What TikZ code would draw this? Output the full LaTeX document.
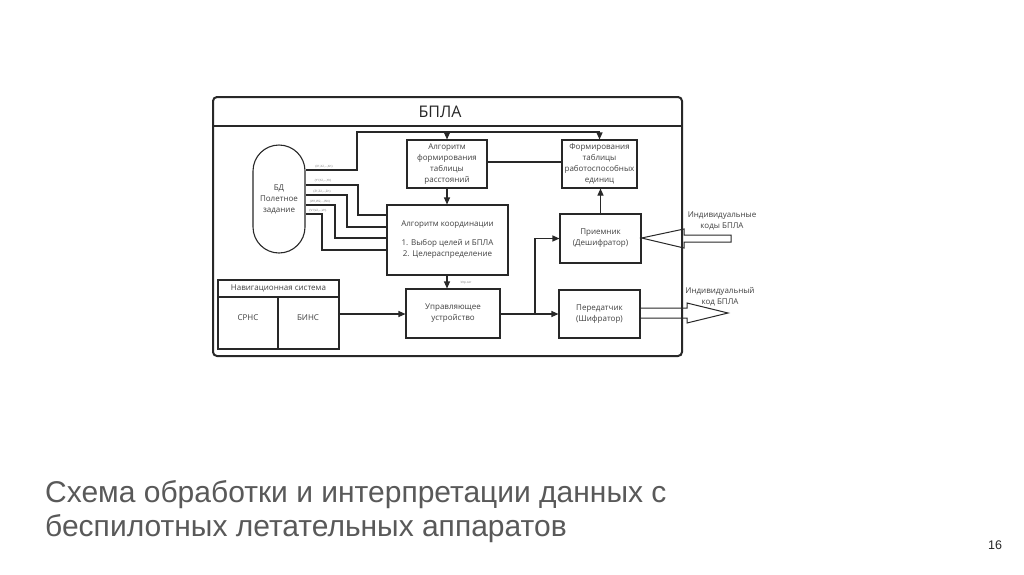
\documentclass[tikz,border=0pt]{standalone}
\usepackage{fontspec}
\setmainfont{Open Sans}
\newfontfamily\capfont{Liberation Sans}
\usetikzlibrary{arrows.meta}
\definecolor{capgray}{RGB}{89,89,89}
\definecolor{linec}{RGB}{40,40,40}
\begin{document}
\begin{tikzpicture}[x=1pt,y=-1pt,
  box/.style={draw=linec, line width=1.1pt, inner sep=0pt, align=center,
    font=\fontsize{8}{11}\selectfont, text=black!75},
  lbl/.style={inner sep=0pt, align=center, font=\fontsize{8}{11}\selectfont, text=black!75},
  tiny/.style={inner sep=0pt, font=\fontsize{3}{3}\selectfont, text=black!55},
  ln/.style={draw=linec, line width=1.1pt},
  arr/.style={-{Triangle[length=7pt,width=6pt]}}]
\useasboundingbox (0,0) rectangle (1024,574);
\fill[white] (0,0) rectangle (1024,574);

% outer frame
\node[draw=linec, line width=2pt, rounded corners=4pt, inner sep=0pt,
  minimum width=469pt, minimum height=259pt] (outer) at (447.5,226.5) {};
\draw[ln] (outer.west |- 0,126) -- (outer.east |- 0,126);
\node[lbl, font=\fontsize{16}{18}\selectfont, text=black!85] (title) at (440,112) {БПЛА};

% boxes
\node[box, rounded corners=26pt, minimum width=52pt, minimum height=108pt] (bd) at (279,199) {БД\\Полетное\\задание};
\node[box, minimum width=80pt, minimum height=48pt] (alg1) at (447,164) {Алгоритм\\формирования\\таблицы\\расстояний};
\node[box, minimum width=75pt, minimum height=48pt] (form) at (599.5,164) {Формирования\\таблицы\\работоспособных\\единиц};
\node[box, minimum width=121pt, minimum height=70pt] (coord) at (447.5,240) {Алгоритм координации\\[8pt]1. Выбор целей и БПЛА\\2. Целераспределение};
\node[box, minimum width=94pt, minimum height=49pt] (upr) at (453,313.5) {Управляющее\\устройство};
\node[box, minimum width=81pt, minimum height=49pt] (prm) at (600.5,238.5) {Приемник\\(Дешифратор)};
\node[box, minimum width=81pt, minimum height=48pt] (per) at (599.5,314) {Передатчик\\(Шифратор)};

% navigation system
\node[box, minimum width=121pt, minimum height=69pt] (nav) at (278.5,314.5) {};
\draw[ln] (nav.west |- 0,297) -- (nav.east |- 0,297);
\draw[ln] (278,297) -- (nav.south -| 278,0);
\node[lbl] (navh) at (278.5,288.5) {Навигационная система};
\node[lbl] (srns) at (248,318) {СРНС};
\node[lbl] (bins) at (308,318) {БИНС};

% top distribution line
\draw[ln,arr] (bd.east |- 0,170) -| (357,132) -| (form.north);
\draw[ln,arr] (alg1.north |- 0,132) -- (alg1.north);
\draw[ln] (alg1.east |- 0,162) -- (form.west |- 0,162);
\draw[ln,arr] (alg1.south) -- (alg1.south |- coord.north);

% data lines from БД
\draw[ln] (bd.east |- 0,185) -| (358,215) -- (coord.west |- 0,215);
\draw[ln] (bd.east |- 0,195) -| (347,227) -- (coord.west |- 0,227);
\draw[ln] (bd.east |- 0,205) -| (335,238) -- (coord.west |- 0,238);
\draw[ln] (bd.east |- 0,214) -| (322,250) -- (coord.west |- 0,250);
\node[tiny] (t1) at (324,166.5) {\{X1,X2,...,Xn\}};
\node[tiny] (t2) at (323,181) {\{Y1,Y2,...,Yn\}};
\node[tiny] (t3) at (322,191.5) {\{Z1,Z2,...,Zn\}};
\node[tiny] (t4) at (320,201.5) {\{W1,W2,...,Wn\}};
\node[tiny] (t5) at (318,211) {\{V1,V2,...,Vn\}};

% control
\draw[ln,arr] (coord.south -| alg1.south) -- (alg1.south |- upr.north);
\node[tiny] (usig) at (466,283) {Упр.сиг};
\draw[ln,arr] (nav.east |- 0,314) -- (upr.west |- 0,314);
\coordinate (j) at (535,314);
\draw[ln] (upr.east |- 0,314) -- (j);
\draw[ln,arr] (j) -- (per.west |- j);
\draw[ln,arr] (j) |- (prm.west);
\draw[ln,arr] (prm.north) -- (prm.north |- form.south);

% hollow arrows
\draw[ln, line width=1pt] (prm.east |- 0,238) -- (684,229) -- (684,235) -- (731,235) -- (731,242) -- (684,242) -- (684,248) -- cycle;
\draw[ln, line width=1pt] (per.east |- 0,308) -- (687,308) -- (687,303) -- (728,313) -- (687,323) -- (687,318) -- (per.east |- 0,318);
\node[lbl] (lin) at (722,221) {Индивидуальные\\коды БПЛА};
\node[lbl] (lout) at (720,297) {Индивидуальный\\код БПЛА};

% caption
\node[anchor=base west, inner sep=0pt, align=left, text=capgray,
  font=\capfont\fontsize{30}{34}\selectfont] (cap) at (45,536)
  {Схема обработки и интерпретации данных с\\беспилотных летательных аппаратов};
\node[anchor=base, inner sep=0pt, text=black!85, font=\capfont\fontsize{12.5}{14}\selectfont] (pg) at (995,549) {16};
\end{tikzpicture}
\end{document}
